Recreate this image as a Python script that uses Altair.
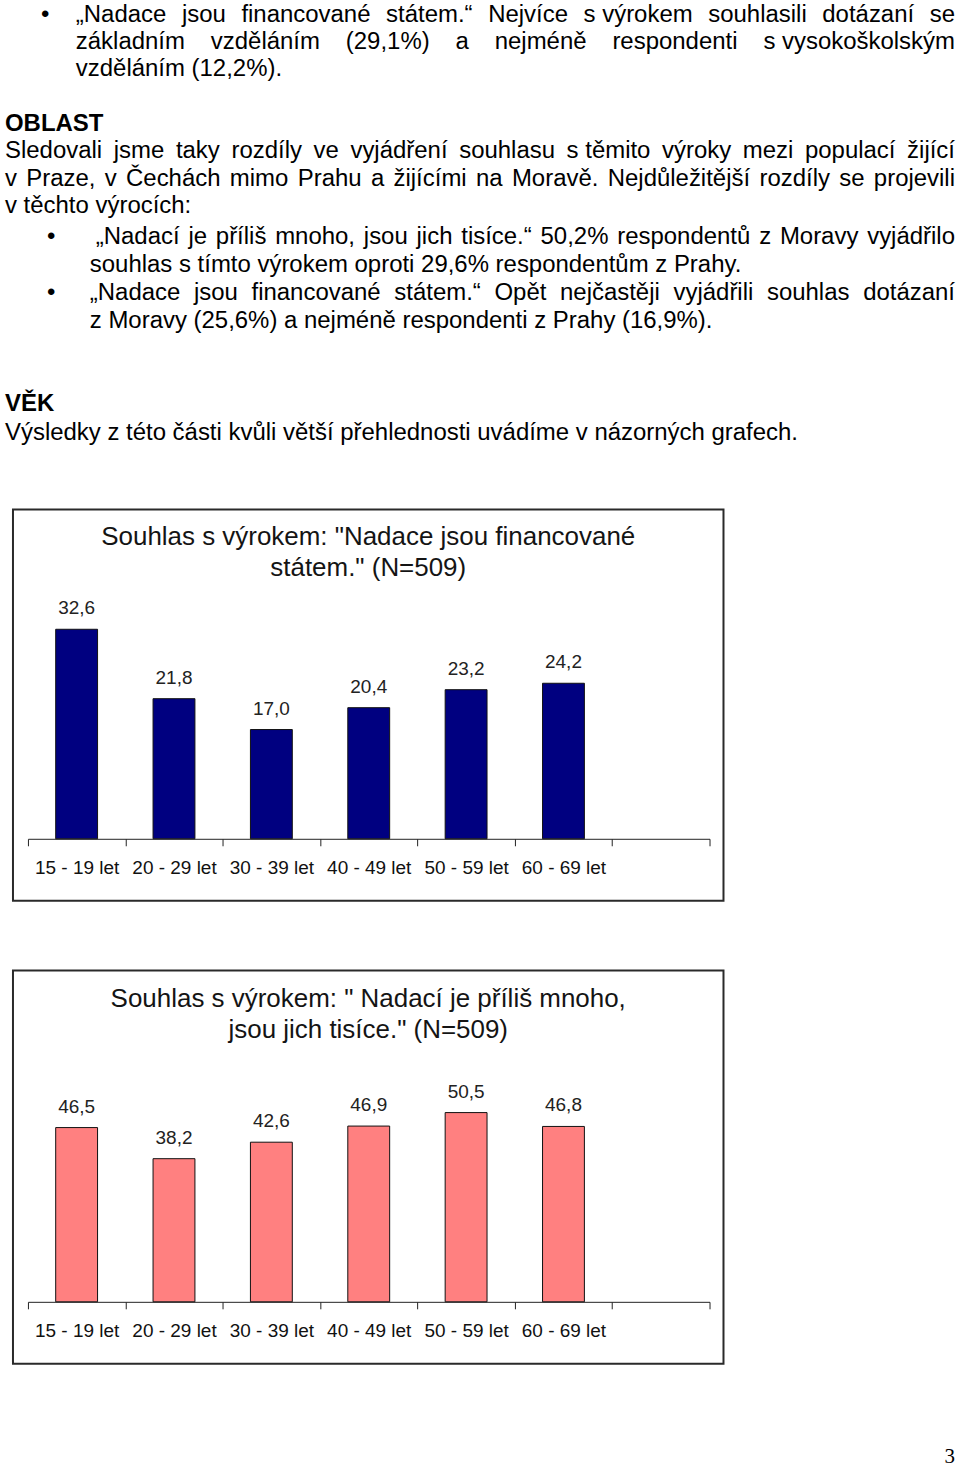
import altair as alt
import pandas as pd

# ---------------- data ----------------
age_groups = ["15 - 19 let", "20 - 29 let", "30 - 39 let", "40 - 49 let", "50 - 59 let", "60 - 69 let"]
financed_values = [32.6, 21.8, 17.0, 20.4, 23.2, 24.2]
too_many_values = [46.5, 38.2, 42.6, 46.9, 50.5, 46.8]

chart1_title = ['Souhlas s výrokem: "Nadace jsou financované', 'státem." (N=509)']
chart2_title = ['Souhlas s výrokem: " Nadací je příliš mnoho,', 'jsou jich tisíce." (N=509)']

NB = "\u00a0"
body_lines = [
    "„Nadace jsou financované státem.“ Nejvíce s" + NB + "výrokem souhlasili dotázaní se",
    "základním vzděláním (29,1%) a nejméně respondenti s" + NB + "vysokoškolským",
    "vzděláním (12,2%).",
    "Sledovali jsme taky rozdíly ve vyjádření souhlasu s" + NB + "těmito výroky mezi populací žijící",
    "v Praze, v Čechách mimo Prahu a žijícími na Moravě. Nejdůležitější rozdíly se projevili",
    "v" + NB + "těchto výrocích:",
    "„Nadací je příliš mnoho, jsou jich tisíce.“ 50,2% respondentů z Moravy vyjádřilo",
    "souhlas s" + NB + "tímto výrokem oproti 29,6% respondentům z Prahy.",
    "„Nadace jsou financované státem.“ Opět nejčastěji vyjádřili souhlas dotázaní",
    "z Moravy (25,6%) a nejméně respondenti z Prahy (16,9%).",
    "Výsledky z této části kvůli větší přehlednosti uvádíme v názorných grafech.",
]
headings = ["OBLAST", "VĚK"]
page_number = "3"

# ---------------- layout (pixels) ----------------
# (left, right edge if justified else 0, baseline)
body_layout = [
    (75, 956, 19.2), (75, 956, 46.5), (75, 0, 73.9),
    (4, 956, 156.0), (4, 956, 183.4), (4, 0, 210.8),
    (95, 956, 241.5), (89, 0, 269.8), (89, 956, 298.1), (89, 0, 326.4),
    (4, 0, 438.5),
]
heading_layout = [(4, 128.6), (4, 409.5)]
bullet_layout = [(40, 19.2), (46, 241.5), (46, 298.1)]

# Arial / Liberation Sans advance widths (per 1000 em)
ARIAL = {
    " ": 278, NB: 278, "a": 556, "b": 556, "c": 500, "d": 556, "e": 556, "f": 278, "g": 556,
    "h": 556, "i": 222, "j": 222, "k": 500, "l": 222, "m": 833, "n": 556, "o": 556, "p": 556,
    "q": 556, "r": 333, "s": 500, "t": 278, "u": 556, "v": 500, "w": 722, "x": 500, "y": 500,
    "z": 500, "á": 556, "é": 556, "í": 278, "ý": 500, "ú": 556, "ů": 556, "ě": 556, "š": 500,
    "č": 500, "ř": 333, "ž": 500, "ň": 556, "A": 667, "B": 667, "C": 722, "D": 722, "E": 667,
    "F": 611, "G": 778, "H": 722, "I": 278, "J": 500, "K": 667, "L": 556, "M": 833, "N": 722,
    "O": 778, "P": 667, "R": 722, "S": 667, "T": 611, "U": 722, "V": 667, "Z": 611, "Č": 722,
    "Ě": 667, ",": 278, ".": 278, "(": 333, ")": 333, "%": 889, ":": 278, "-": 333, "„": 333,
    "“": 333, '"': 355, "=": 584,
}
for d in "0123456789":
    ARIAL[d] = 556

BODY_SIZE = 24
BODY_FONT = "Liberation Sans"


def text_width(s, size):
    return sum(ARIAL.get(ch, 556) for ch in s) * size / 1000.0


rows = []
for text, (left, right, base) in zip(body_lines, body_layout):
    if right:
        words = text.split(" ")
        widths = [text_width(w, BODY_SIZE) for w in words]
        gap = (right - left - sum(widths)) / (len(words) - 1)
        x = left
        for w, wd in zip(words, widths):
            rows.append({"t": w, "x": x, "y": base})
            x += wd + gap
    else:
        rows.append({"t": text, "x": left, "y": base})
words_df = pd.DataFrame(rows)
head_df = pd.DataFrame({"t": headings, "x": [h[0] for h in heading_layout], "y": [h[1] for h in heading_layout]})
bullet_df = pd.DataFrame({"t": ["•"] * len(bullet_layout), "x": [b[0] for b in bullet_layout], "y": [b[1] for b in bullet_layout]})

xp = alt.X("x:Q", scale=None, axis=None)
yp = alt.Y("y:Q", scale=None, axis=None)

body = alt.Chart(words_df).mark_text(
    font=BODY_FONT, fontSize=BODY_SIZE, align="left", baseline="alphabetic", color="#000"
).encode(x=xp, y=yp, text="t:N")
heads = alt.Chart(head_df).mark_text(
    font=BODY_FONT, fontSize=BODY_SIZE, fontWeight="bold", align="left", baseline="alphabetic", color="#000"
).encode(x=xp, y=yp, text="t:N")
bullets = alt.Chart(bullet_df).mark_text(
    font=BODY_FONT, fontSize=24, align="left", baseline="alphabetic", color="#000"
).encode(x=xp, y=yp, text="t:N")

text_panel = alt.layer(body, heads, bullets).properties(width=960, height=508)

CHART_FONT = "Liberation Sans"
one = pd.DataFrame({"k": [0]})


def bar_panel(values, title_lines, fill, ymax, px_per_unit, axis_y, box_h, panel_h, title_ys, extra=None):
    df = pd.DataFrame({
        "age": age_groups,
        "value": values,
        "label": [f"{v:.1f}".replace(".", ",") for v in values],
    })
    xscale = alt.Scale(domain=age_groups + [" "], range=[27, 710], paddingInner=0, paddingOuter=0)
    yscale = alt.Scale(domain=[0, ymax], range=[axis_y, axis_y - ymax * px_per_unit])
    box = alt.Chart(one).mark_rect(fill="white", stroke="#2a2a2a", strokeWidth=2).encode(
        x=alt.value(12), x2=alt.value(724), y=alt.value(0), y2=alt.value(box_h)
    )
    layers = [box]
    for line, ty in zip(title_lines, title_ys):
        layers.append(
            alt.Chart(one).mark_text(
                text=line, font=CHART_FONT, fontSize=26, align="center", baseline="middle", color="#141414"
            ).encode(x=alt.value(368), y=alt.value(ty))
        )
    bars = alt.Chart(df).mark_bar(
        width=alt.RelativeBandSize(0.43), fill=fill, stroke="#111", strokeWidth=1
    ).encode(
        x=alt.X("age:N", scale=xscale, sort=None, axis=alt.Axis(
            title=None, offset=axis_y - panel_h, tickBand="extent", tickSize=7, tickColor="#222",
            domainColor="#222", domainWidth=1, tickWidth=1, labelAngle=0, labelFont=CHART_FONT,
            labelFontSize=19, labelColor="#111", labelPadding=13, grid=False, zindex=2)),
        y=alt.Y("value:Q", scale=yscale, axis=None),
    )
    labels = alt.Chart(df).mark_text(
        font=CHART_FONT, fontSize=19, color="#222", baseline="alphabetic", dy=-15
    ).encode(
        x=alt.X("age:N", scale=xscale, sort=None),
        y=alt.Y("value:Q", scale=yscale),
        text="label:N",
    )
    layers += [bars, labels]
    if extra is not None:
        layers.append(extra)
    return alt.layer(*layers).properties(width=960, height=panel_h)


panel1 = bar_panel(financed_values, chart1_title, "#000080", 40, 6.44, 330, 392, 462, [28, 59])

page_num = alt.Chart(one).mark_text(
    text=page_number, font="Liberation Serif", fontSize=21, align="right", baseline="alphabetic", color="#000"
).encode(x=alt.value(956), y=alt.value(494))

panel2 = bar_panel(too_many_values, chart2_title, "#FF8080", 60, 3.755, 332, 394, 499, [29, 60], extra=page_num)

chart = alt.vconcat(text_panel, panel1, panel2, spacing=0, bounds="flush").properties(
    padding=0, background="white"
).configure_view(stroke="transparent")

chart.save("out.html", embed_options={"renderer": "svg", "actions": False})
